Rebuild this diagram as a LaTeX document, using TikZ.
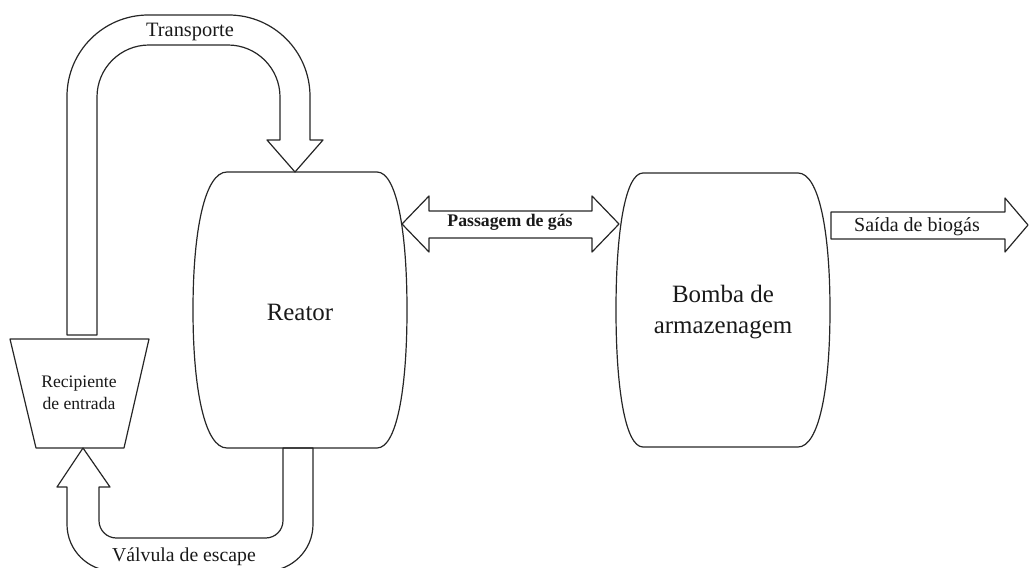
\documentclass[tikz,border=0pt]{standalone}
\usepackage{fontspec}
\setmainfont{Liberation Serif}
\newcommand{\barrelshape}[6]{% x1 x2 xl xr ytop ybot
  \pgfmathsetmacro{\ymid}{(#5+#6)/2}
  \draw[shapeline] (#1,#5) -- (#2,#5)
    .. controls ({#2+0.65*(#4-#2)},#5) and (#4,{#5+0.42*(\ymid-#5)}) .. (#4,\ymid)
    .. controls (#4,{#6-0.42*(#6-\ymid)}) and ({#2+0.65*(#4-#2)},#6) .. (#2,#6)
    -- (#1,#6)
    .. controls ({#1-0.65*(#1-#3)},#6) and (#3,{#6-0.42*(#6-\ymid)}) .. (#3,\ymid)
    .. controls (#3,{#5+0.42*(\ymid-#5)}) and ({#1-0.65*(#1-#3)},#5) .. (#1,#5) -- cycle;}
\tikzset{
  shapeline/.style={draw=black!85, line width=0.9pt, line join=round},
  lbl/.style={inner sep=0pt, align=center, text=black!90},
}
\begin{document}
\begin{tikzpicture}[x=0.75pt,y=-0.75pt]
\useasboundingbox (0,0) rectangle (1029,568);
% Reactor and storage
\barrelshape{227}{377}{193}{407}{172}{448}
\barrelshape{643}{798}{616}{830}{173}{447}
\node[lbl, font=\fontsize{18.7}{22}\selectfont] (reator) at (300,312) {Reator};
\node[lbl, font=\fontsize{18.7}{23.5}\selectfont] (bomba) at (723,312) {Bomba de\\armazenagem};
% Recipient
\draw[shapeline] (10,339) -- (149,339) -- (124,448) -- (36,448) -- cycle;
\node[lbl, font=\fontsize{13.2}{16.5}\selectfont] (recip) at (79,393) {Recipiente\\de entrada};
% Transport arrow
\draw[shapeline] (97,335) [rounded corners=39pt] -- (97,45) -- (280,45) [sharp corners] -- (280,140) -- (267,140) -- (295,172) -- (323,140) -- (310,140) [rounded corners=61pt] -- (310,15) -- (67,15) [sharp corners] -- (67,335) -- cycle;
\node[lbl, font=\fontsize{15.3}{18}\selectfont] (transp) at (190,32) {Transporte};
% Escape arrow
\draw[shapeline] (283,448) [rounded corners=13pt] -- (283,538) -- (99,538) [sharp corners] -- (99,487) -- (110,487) -- (83,448) -- (57,487) -- (67,487) [rounded corners=35pt] -- (67,571) -- (313,571) [sharp corners] -- (313,448) -- cycle;
\node[lbl, font=\fontsize{14.8}{18}\selectfont] (escape) at (184,557) {Válvula de escape};
% Gas passage
\draw[shapeline] (402,224) -- (429,196) -- (429,211) -- (592,211) -- (592,196) -- (619,224) -- (592,252) -- (592,238) -- (429,238) -- (429,252) -- cycle;
\node[lbl, font=\bfseries\fontsize{13.3}{16}\selectfont] (gas) at (510,222) {Passagem de gás};
% Biogas output
\draw[shapeline] (831,212) -- (1005,212) -- (1005,198) -- (1028,225) -- (1005,252) -- (1005,239) -- (831,239) -- cycle;
\node[lbl, font=\fontsize{15}{18}\selectfont] (saida) at (917,227) {Saída de biogás};
\end{tikzpicture}
\end{document}
